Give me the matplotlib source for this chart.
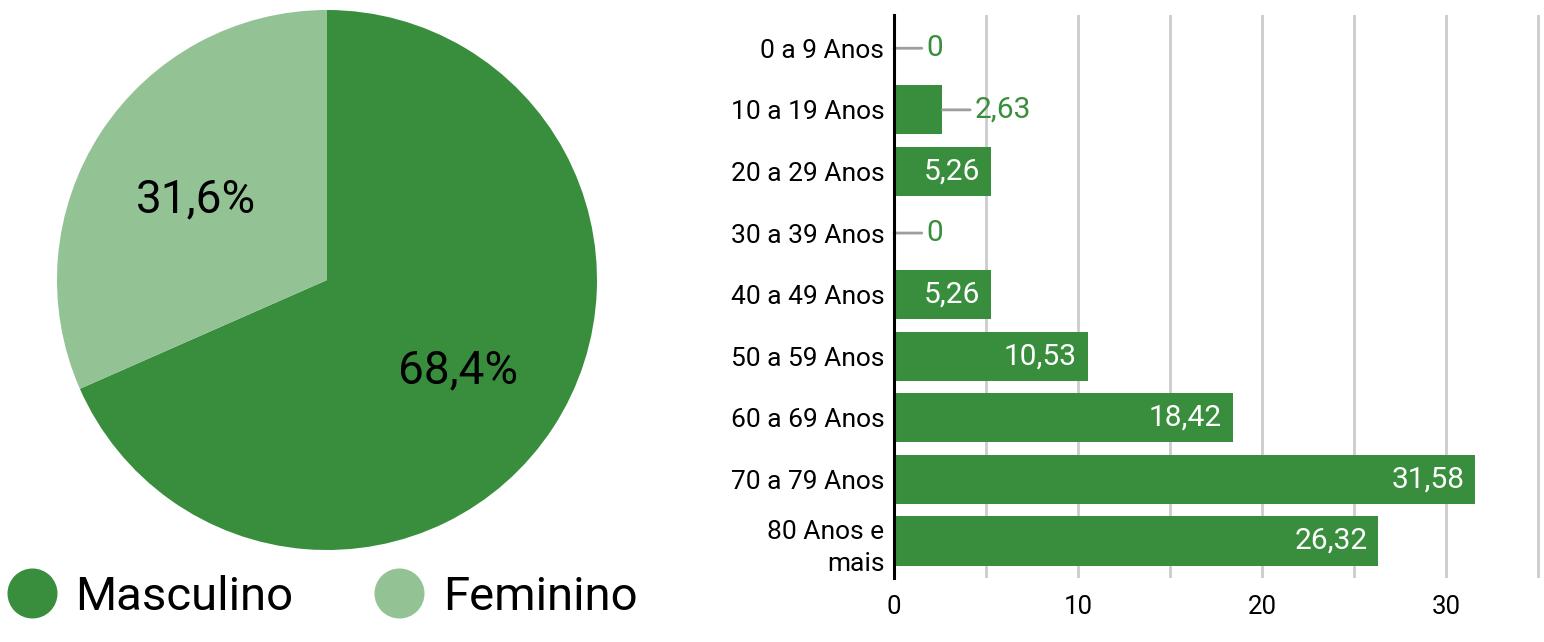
import matplotlib
matplotlib.use("Agg")
import matplotlib.pyplot as plt
from matplotlib.lines import Line2D

plt.rcParams['font.family'] = ['Roboto', 'DejaVu Sans']

# ---- data ----
sexo_labels = ["Masculino", "Feminino"]
sexo_values = [68.4, 31.6]

faixas = ["0 a 9 Anos", "10 a 19 Anos", "20 a 29 Anos", "30 a 39 Anos",
          "40 a 49 Anos", "50 a 59 Anos", "60 a 69 Anos", "70 a 79 Anos",
          "80 Anos e\nmais"]
faixa_values = [0, 2.63, 5.26, 0, 5.26, 10.53, 18.42, 31.58, 26.32]

DARK = "#388e3c"
LIGHT = "#93c294"
W, H = 1544, 642
fig = plt.figure(figsize=(W / 100, H / 100), dpi=100)

# ---- pie ----
cx, cy, r = 327, 280, 270
axp = fig.add_axes([(cx - r) / W, (H - cy - r) / H, 2 * r / W, 2 * r / H])
wedges, texts, autotexts = axp.pie(
    sexo_values, colors=[DARK, LIGHT], startangle=90, counterclock=False,
    autopct=lambda p: f"{p:.1f}%".replace(".", ","), pctdistance=0.58,
    textprops=dict(fontsize=33, color="black"))
for t in autotexts:
    x0, y0 = t.get_position()
    t.set_position((x0, y0 - 5 / r))
axp.set_xlim(-1, 1)
axp.set_ylim(-1, 1)

handles = [Line2D([], [], marker="o", linestyle="none", markersize=35,
                  markerfacecolor=c, markeredgecolor=c) for c in [DARK, LIGHT]]
fig.legend(handles, sexo_labels, loc="center left",
           bbox_to_anchor=(8 / W, 1 - 597 / H), ncol=2, frameon=False,
           fontsize=34, handlelength=1.0, handletextpad=0.42,
           columnspacing=1.75, borderpad=0, borderaxespad=0)

# ---- bars ----
top, bottom = 15, 578
left, right = 894, 1541
axb = fig.add_axes([left / W, (H - bottom) / H, (right - left) / W, (bottom - top) / H])
y = list(range(len(faixas)))
axb.barh(y, faixa_values, height=0.8, color=DARK, zorder=2)
axb.set_xlim(0, 35.15)
axb.set_ylim(8.6, -0.54)
axb.set_yticks(y)
axb.set_yticklabels(faixas, fontsize=19, linespacing=1.45)
xt = list(range(0, 36, 5))
axb.set_xticks(xt)
axb.set_xticklabels([str(v) if v % 10 == 0 else "" for v in xt], fontsize=18.5)
axb.tick_params(axis="both", length=0)
axb.tick_params(axis="x", pad=12)
axb.tick_params(axis="y", pad=7)
axb.grid(axis="x", color="#cccccc", linewidth=2, zorder=0)
for s in ["top", "right", "bottom"]:
    axb.spines[s].set_visible(False)
axb.spines["left"].set_linewidth(2.2)
axb.spines["left"].set_color("black")
axb.spines["left"].set_zorder(3)

for i, v in enumerate(faixa_values):
    lab = f"{v:.2f}".replace(".", ",") if v != 0 else "0"
    if v >= 5:
        axb.annotate(lab, xy=(v, i), xytext=(-8, 0), textcoords="offset points",
                     ha="right", va="center", color="white", fontsize=21.5)
    else:
        axb.annotate(lab, xy=(v, i), xytext=(23, 0), textcoords="offset points",
                     ha="left", va="center", color=DARK, fontsize=21.5,
                     arrowprops=dict(arrowstyle="-", color="#9e9e9e", lw=2,
                                     shrinkA=1, shrinkB=0, relpos=(0, 0.5)))

fig.savefig("out.png", dpi=100)
